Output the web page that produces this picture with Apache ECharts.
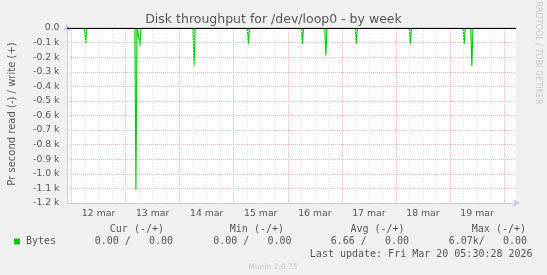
<!DOCTYPE html>
<html>
<head>
<meta charset="utf-8">
<script src="https://cdn.jsdelivr.net/npm/echarts@6/dist/echarts.min.js"></script>
<style>
html,body{margin:0;padding:0;background:#f0f0f0;}
#chart{width:547px;height:275px;}
</style>
</head>
<body>
<div id="chart"></div>
<script>
// Time in hours since 12 Mar 00:00, value in bytes/s (read shown negative)
const hours = [-2, 5.8, 6.3, 6.8, 28.1, 28.6, 29.1, 29.9, 30.4, 30.9, 53.9, 54.4, 54.9,
  78.0, 78.5, 79.0, 102.0, 102.5, 103.0, 112.4, 112.9, 113.4, 125.9, 126.4, 126.9,
  149.9, 150.4, 150.9, 173.8, 174.3, 174.8, 177.2, 177.7, 178.2, 197.3];
const bytes = [0, 0, -110, 0, 0, -1110, 0, 0, -121, 0, 0, -263, 0,
  0, -110, 0, 0, -110, 0, 0, -188, 0, 0, -110, 0,
  0, -110, 0, 0, -110, 0, 0, -263, 0, 0];
const dayLines = [0, 24, 48, 72, 96, 120, 144, 168, 192];
const sixHourLines = [6, 12, 18, 30, 36, 42, 54, 60, 66, 78, 84, 90, 102, 108, 114,
  126, 132, 138, 150, 156, 162, 174, 180, 186];
const dayLabelPos = [12, 36, 60, 84, 108, 132, 156, 180];
const dayLabels = ['12 mar', '13 mar', '14 mar', '15 mar', '16 mar', '17 mar', '18 mar', '19 mar'];
const legendHeaders = ['Cur (-/+)', 'Min (-/+)', 'Avg (-/+)', 'Max (-/+)'];
const legendValues = ['0.00 /   0.00', '0.00 /   0.00', '6.66 /   0.00', '6.07k/   0.00'];
const seriesName = 'Bytes';
const lastUpdate = 'Last update: Fri Mar 20 05:30:28 2026';

const chart = echarts.init(document.getElementById('chart'), null, {renderer: 'canvas'});
const txt = '#555';
const mono = '"DejaVu Sans Mono", monospace';
const sans = '"DejaVu Sans", sans-serif';
const headerRight = [164, 284, 404.6, 526];
const valueRight = [173, 291.5, 409, 527];

const graphics = [
  {type: 'text', left: 'center', top: 13, style: {text: 'Disk throughput for /dev/loop0 - by week', font: '12.5px ' + sans, fill: txt}},
  {type: 'text', x: 12, y: 114, rotation: Math.PI / 2, style: {text: 'Pr second read (-) / write (+)', font: '10px ' + sans, fill: txt, align: 'center', verticalAlign: 'middle'}},
  {type: 'text', x: 538, y: 53, rotation: -Math.PI / 2, style: {text: 'RRDTOOL / TOBI OETIKER', font: '8px ' + sans, fill: '#c8c8c8', align: 'center', verticalAlign: 'middle'}},
  {type: 'rect', shape: {x: 14, y: 238.5, width: 6, height: 6}, style: {fill: '#00cc00'}},
  {type: 'text', x: 26, y: 241.4, style: {text: seriesName, font: '10px ' + mono, fill: txt, verticalAlign: 'middle'}},
  {type: 'text', x: 532.6, y: 254.3, style: {text: lastUpdate, font: '10px ' + mono, fill: txt, align: 'right', verticalAlign: 'middle'}},
  {type: 'text', x: 273, y: 267.5, style: {text: 'Munin 2.0.75', font: '7.5px ' + sans, fill: '#c8c8c8', align: 'center', verticalAlign: 'middle'}}
];
legendHeaders.forEach((h, i) => graphics.push({type: 'text', x: headerRight[i], y: 229.2, style: {text: h, font: '10px ' + mono, fill: txt, align: 'right', verticalAlign: 'middle'}}));
legendValues.forEach((v, i) => graphics.push({type: 'text', x: valueRight[i], y: 241.4, style: {text: v, font: '10px ' + mono, fill: txt, align: 'right', verticalAlign: 'middle'}}));

chart.setOption({
  backgroundColor: '#f0f0f0',
  animation: false,
  grid: {left: 67, right: 31, top: 28, bottom: 72, show: true, backgroundColor: '#ffffff', borderWidth: 0},
  xAxis: {
    type: 'value', min: -2, max: 197.3,
    axisLine: {show: true, onZero: false, lineStyle: {color: '#c8c8f0', width: 1}, symbol: ['none', 'arrow'], symbolSize: [6, 7], symbolOffset: [0, 4]},
    axisTick: {show: false},
    splitLine: {show: false},
    axisLabel: {customValues: dayLabelPos, formatter: v => dayLabels[dayLabelPos.indexOf(v)] || '', color: txt, fontFamily: sans, fontSize: 9.3, margin: 6}
  },
  yAxis: {
    type: 'value', min: -1200, max: 0, interval: 100,
    axisLine: {show: true, onZero: false, lineStyle: {color: '#c8c8f0', width: 1}, symbol: ['none', 'arrow'], symbolSize: [6, 7], symbolOffset: [0, 4]},
    axisTick: {show: false},
    splitLine: {show: true, lineStyle: {color: '#eab4b4', type: [1, 1], width: 1}},
    axisLabel: {formatter: v => v === 0 ? '0.0' : (v / 1000).toFixed(1) + ' k', color: txt, fontFamily: sans, fontSize: 9.3, margin: 7.5, showMinLabel: true, showMaxLabel: true}
  },
  series: [
    {
      type: 'line', silent: true, data: [], z: 1,
      markLine: {silent: true, symbol: 'none', label: {show: false}, lineStyle: {color: '#dcdcdc', type: [1, 2], width: 1},
        data: sixHourLines.map(h => ({xAxis: h}))}
    },
    {
      type: 'line', silent: true, data: [], z: 1,
      markLine: {silent: true, symbol: 'none', label: {show: false}, lineStyle: {color: '#f0b4b4', type: [1, 1], width: 1},
        data: dayLines.map(h => ({xAxis: h}))}
    },
    {
      name: seriesName, type: 'line', z: 3,
      data: hours.map((h, i) => [h, bytes[i]]),
      showSymbol: false, symbol: 'none',
      lineStyle: {color: '#00cc00', width: 1.1},
      areaStyle: {color: 'rgba(0,204,0,0.35)'},
      markLine: {silent: true, symbol: 'none', label: {show: false}, lineStyle: {color: '#000000', type: 'solid', width: 1},
        data: [{yAxis: 0}]}
    }
  ],
  graphic: graphics
});
</script>
</body>
</html>
